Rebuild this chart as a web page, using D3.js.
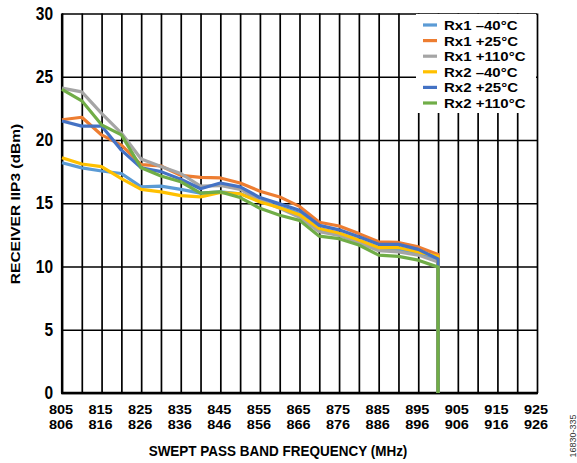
<!DOCTYPE html>
<html>
<head>
<meta charset="utf-8">
<script src="https://cdn.jsdelivr.net/npm/d3@7"></script>
<style>
  body { margin: 0; background: #fff; }
  svg { display: block; font-family: "Liberation Sans", Arial, sans-serif; }
</style>
</head>
<body>
<main></main>
<script>
// swept band lower edge (MHz); the last 900 is the drop to 0 at band end
const freqs = [805, 810, 815, 820, 825, 830, 835, 840, 845, 850,
               855, 860, 865, 870, 875, 880, 885, 890, 895, 900, 900];

const rx1Minus40 = [18.2, 17.8, 17.55, 17.35, 16.3, 16.35, 16.1, 15.8, 15.9, 15.75,
                    15.2, 14.7, 14.2, 12.9, 12.55, 12.0, 11.4, 11.3, 11.0, 10.5, 0];
const rx1Plus25 = [21.6, 21.8, 20.4, 19.6, 18.05, 17.95, 17.2, 17.05, 17.0, 16.6,
                   15.95, 15.5, 14.75, 13.5, 13.2, 12.6, 11.95, 11.9, 11.55, 10.95, 0];
const rx1Plus110 = [24.1, 23.8, 22.1, 20.55, 18.5, 17.9, 17.35, 16.35, 16.4, 16.1,
                    15.25, 14.6, 13.9, 12.75, 12.45, 11.9, 11.25, 11.15, 10.9, 10.35, 0];
const rx2Minus40 = [18.6, 18.1, 17.9, 16.95, 16.1, 15.9, 15.6, 15.5, 15.85, 15.75,
                    15.1, 14.65, 14.1, 13.0, 12.65, 12.1, 11.5, 11.5, 11.15, 10.8, 0];
const rx2Plus25 = [21.5, 21.1, 21.1, 19.2, 17.8, 17.5, 16.9, 16.15, 16.6, 16.3,
                   15.45, 14.95, 14.45, 13.25, 12.9, 12.35, 11.75, 11.75, 11.35, 10.6, 0];
const rx2Plus110 = [24.0, 23.1, 21.2, 20.4, 17.8, 17.15, 16.7, 15.8, 15.9, 15.45,
                    14.6, 14.05, 13.65, 12.4, 12.2, 11.7, 10.9, 10.8, 10.5, 9.95, 0];

const seriesNames = ["Rx1 –40°C", "Rx1 +25°C", "Rx1 +110°C", "Rx2 –40°C", "Rx2 +25°C", "Rx2 +110°C"];
const seriesValues = [rx1Minus40, rx1Plus25, rx1Plus110, rx2Minus40, rx2Plus25, rx2Plus110];
const seriesColors = ["#5B9BD5", "#ED7D31", "#A5A5A5", "#FFC000", "#4472C4", "#70AD47"];

const yTicks = [0, 5, 10, 15, 20, 25, 30];
const xGrid = [805, 810, 815, 820, 825, 830, 835, 840, 845, 850, 855, 860, 865,
               870, 875, 880, 885, 890, 895, 900, 905, 910, 915, 920, 925];
const xTicksTop = [805, 815, 825, 835, 845, 855, 865, 875, 885, 895, 905, 915, 925];
const xTicksBottom = [806, 816, 826, 836, 846, 856, 866, 876, 886, 896, 906, 916, 926];

let width = 577;
let height = 463;
const margin = { top: 13.5, right: 40, bottom: 70, left: 62 };
const SY = 1.15; // text in the original is stretched vertically

const x = d3.scaleLinear().domain([805, 925]).range([margin.left, width - margin.right]);
const y = d3.scaleLinear().domain([0, 30]).range([height - margin.bottom, margin.top]);

const svg = d3.select("main")
    .append("svg")
    .attr("width", width)
    .attr("height", height);

svg.append("rect")
    .attr("width", width)
    .attr("height", height)
    .attr("fill", "#fff");

// vertical grid
const xGridG = svg.append("g")
    .attr("transform", `translate(0,${height - margin.bottom})`)
    .call(d3.axisBottom(x).tickValues(xGrid).tickSize(-(height - margin.top - margin.bottom)).tickFormat(""));
xGridG.select(".domain").remove();
xGridG.selectAll("line").attr("stroke", "#000").attr("stroke-width", 1.7);

// horizontal grid + y labels
const yAxisG = svg.append("g")
    .attr("transform", `translate(${margin.left},0)`)
    .call(d3.axisLeft(y).tickValues(yTicks).tickSize(-(width - margin.left - margin.right)).tickPadding(9).tickSizeOuter(0));
yAxisG.select(".domain").remove();
yAxisG.selectAll("line").attr("stroke", "#000").attr("stroke-width", 1.7);
yAxisG.selectAll("text")
    .attr("fill", "#000")
    .attr("font-size", 15.5)
    .attr("font-weight", "bold")
    .attr("font-family", "Liberation Sans, Arial, sans-serif")
    .attr("transform", `scale(1,${SY})`);

// frame
svg.append("line")
    .attr("x1", margin.left).attr("x2", margin.left)
    .attr("y1", margin.top).attr("y2", height - margin.bottom)
    .attr("stroke", "#000").attr("stroke-width", 2.2);
svg.append("line")
    .attr("x1", margin.left - 1).attr("x2", width - margin.right + 1)
    .attr("y1", height - margin.bottom).attr("y2", height - margin.bottom)
    .attr("stroke", "#000").attr("stroke-width", 2.5);

// x labels (two lines)
const xLab = svg.append("g").attr("font-size", 13.2).attr("font-weight", "bold").attr("text-anchor", "middle");
xLab.selectAll("text.top")
    .data(xTicksTop)
    .join("text")
    .attr("class", "top")
    .attr("transform", d => `translate(${x(d) - 1},${413.5}) scale(1.1,1)`)
    .text(d => d);
xLab.selectAll("text.bot")
    .data(xTicksBottom)
    .join("text")
    .attr("class", "bot")
    .attr("transform", (d, i) => `translate(${x(xTicksTop[i]) - 1},${429}) scale(1.1,1)`)
    .text(d => d);

// axis titles
svg.append("text")
    .attr("transform", `translate(278,456) scale(1,${SY})`)
    .attr("text-anchor", "middle")
    .attr("font-size", 13.5)
    .attr("font-weight", "bold")
    .text("SWEPT PASS BAND FREQUENCY (MHz)");

svg.append("text")
    .attr("transform", `translate(20,204) rotate(-90) scale(${SY},1)`)
    .attr("text-anchor", "middle")
    .attr("font-size", 13.5)
    .attr("font-weight", "bold")
    .text("RECEIVER IIP3 (dBm)");

// legend background hides grid
const legX = 416, legY = 14;
svg.append("rect")
    .attr("x", legX).attr("y", legY)
    .attr("width", 120).attr("height", 99)
    .attr("fill", "#fff");

// data lines
const line = d3.line()
    .x((d, i) => x(freqs[i]))
    .y(d => y(d));

svg.append("g")
    .selectAll("path")
    .data(seriesValues)
    .join("path")
    .attr("d", line)
    .attr("fill", "none")
    .attr("stroke", (d, i) => seriesColors[i])
    .attr("stroke-width", 3.2)
    .attr("stroke-linejoin", "round");

// legend
const leg = svg.append("g");
seriesNames.forEach((name, i) => {
    const cy = 25 + i * 15.6;
    leg.append("line")
        .attr("x1", 423).attr("x2", 437)
        .attr("y1", cy).attr("y2", cy)
        .attr("stroke", seriesColors[i])
        .attr("stroke-width", 3.2);
    leg.append("text")
        .attr("transform", `translate(444,${cy + 5}) scale(1.12,1)`)
        .attr("font-size", 13.4)
        .attr("font-weight", "bold")
        .text(name);
});

// figure id
svg.append("text")
    .attr("transform", "translate(576,436) rotate(-90)")
    .attr("text-anchor", "middle")
    .attr("font-size", 9)
    .attr("fill", "#333")
    .text("16830-335");
</script>
</body>
</html>
